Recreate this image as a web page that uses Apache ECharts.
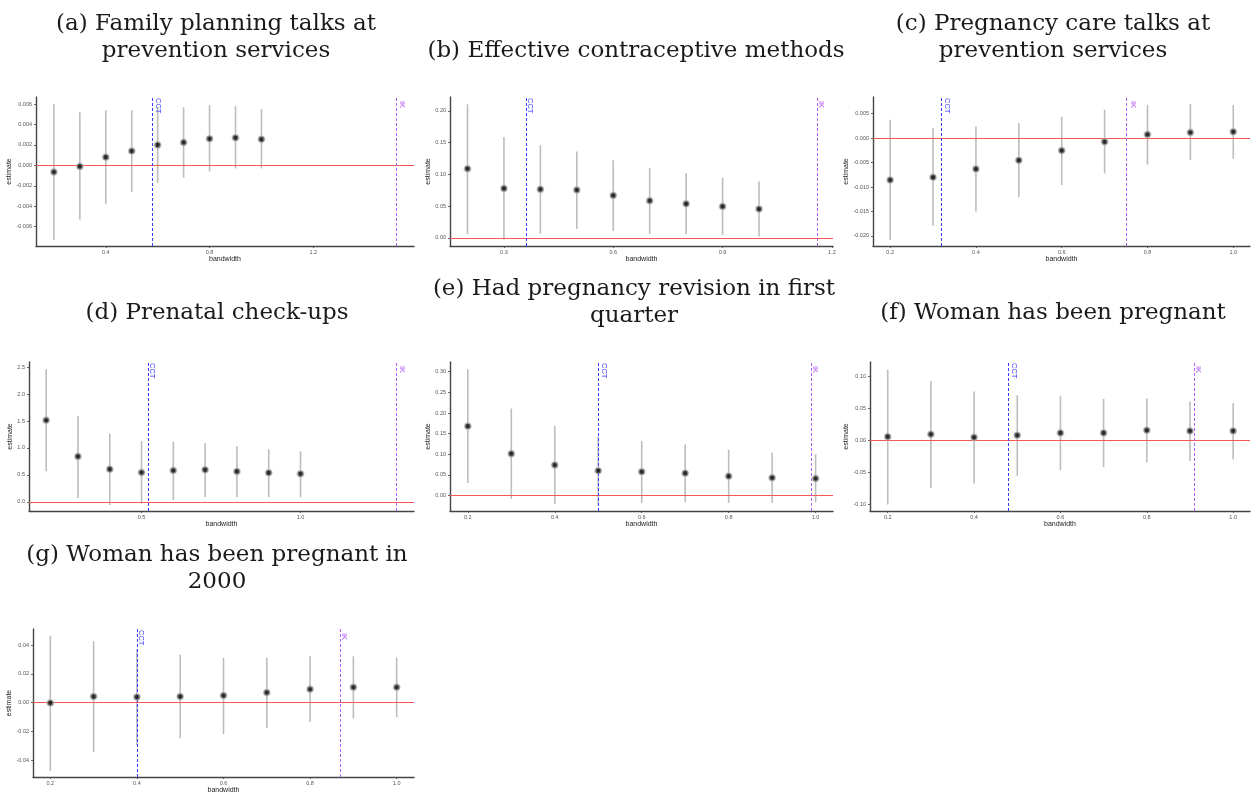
<!DOCTYPE html>
<html>
<head>
<meta charset="utf-8">
<script src="https://cdn.jsdelivr.net/npm/echarts@6/dist/echarts.min.js"></script>
<style>
  html, body { margin: 0; padding: 0; background: #ffffff; }
  #chart { width: 1251px; height: 797px; }
</style>
</head>
<body>
<div id="chart"></div>
<script>
// Bandwidths at which each RD estimate was computed
const bandwidth = [0.2, 0.3, 0.4, 0.5, 0.6, 0.7, 0.8, 0.9, 1.0];

// (a) Family planning talks at prevention services
const estA = [-0.00065, -0.0001, 0.0008, 0.0014, 0.0020, 0.00225, 0.0026, 0.0027, 0.00255];
const loA  = [-0.0073, -0.0053, -0.0038, -0.0026, -0.0017, -0.0012, -0.0006, -0.0003, -0.0003];
const hiA  = [0.0060, 0.0052, 0.0054, 0.0054, 0.0057, 0.0057, 0.0059, 0.0058, 0.0055];

// (b) Effective contraceptive methods
const estB = [0.109, 0.078, 0.0765, 0.0755, 0.067, 0.0586, 0.0538, 0.0496, 0.0454];
const loB  = [0.0058, -0.0026, 0.0069, 0.0142, 0.011, 0.0063, 0.0058, 0.0042, 0.0021];
const hiB  = [0.2105, 0.159, 0.146, 0.136, 0.1224, 0.110, 0.1018, 0.095, 0.089];

// (c) Pregnancy care talks at prevention services
const estC = [-0.00856, -0.0080, -0.0063, -0.00452, -0.00253, -0.00075, 0.00075, 0.00116, 0.0013];
const loC  = [-0.0208, -0.0179, -0.0150, -0.0121, -0.0096, -0.0072, -0.0054, -0.0045, -0.0042];
const hiC  = [0.00377, 0.00205, 0.0024, 0.0031, 0.00438, 0.00582, 0.0068, 0.0070, 0.0068];

// (d) Prenatal check-ups
const estD = [1.514, 0.844, 0.608, 0.546, 0.583, 0.596, 0.565, 0.540, 0.521];
const loD  = [0.571, 0.074, -0.056, -0.031, 0.037, 0.087, 0.087, 0.087, 0.087];
const hiD  = [2.457, 1.594, 1.266, 1.129, 1.117, 1.092, 1.030, 0.974, 0.937];

// (e) Had pregnancy revision in first quarter
const estE = [0.168, 0.1014, 0.0738, 0.060, 0.0576, 0.0543, 0.047, 0.043, 0.0414];
const loE  = [0.0308, -0.0081, -0.0203, -0.0227, -0.0178, -0.0154, -0.0178, -0.0178, -0.0162];
const hiE  = [0.3057, 0.2108, 0.1687, 0.1427, 0.1322, 0.124, 0.111, 0.1038, 0.1005];

// (f) Woman has been pregnant
const estF = [0.0057, 0.0094, 0.0047, 0.0078, 0.0115, 0.0115, 0.0156, 0.0146, 0.0146];
const loF  = [-0.100, -0.074, -0.067, -0.0552, -0.0464, -0.0417, -0.0344, -0.0323, -0.0297];
const hiF  = [0.110, 0.0927, 0.076, 0.0703, 0.0688, 0.0646, 0.0651, 0.0604, 0.0583];

// (g) Woman has been pregnant in 2000
const estG = [-0.0002, 0.0042, 0.0039, 0.0042, 0.0049, 0.0070, 0.0093, 0.0107, 0.0107];
const loG  = [-0.0475, -0.0343, -0.0297, -0.0248, -0.0218, -0.0176, -0.0134, -0.0111, -0.0102];
const hiG  = [0.0466, 0.0427, 0.0370, 0.0334, 0.0311, 0.0313, 0.0322, 0.0322, 0.0313];

// Optimal bandwidths (CCT and IK selectors)
const cctBw = [0.582, 0.357, 0.321, 0.516, 0.502, 0.480, 0.398];
const ikBw  = [1.524, 1.157, 0.754, 1.303, 0.988, 0.907, 0.868];

// Panel titles
const titles = [
  '(a) Family planning talks at\nprevention services',
  '(b) Effective contraceptive methods',
  '(c) Pregnancy care talks at\nprevention services',
  '(d) Prenatal check-ups',
  '(e) Had pregnancy revision in first\nquarter',
  '(f) Woman has been pregnant',
  '(g) Woman has been pregnant in\n2000'
];

// Tick labels
const xTicksA = [0.4, 0.8, 1.2];
const xTicksB = [0.3, 0.6, 0.9, 1.2];
const xTicksD = [0.5, 1.0];
const xTicksStd = [0.2, 0.4, 0.6, 0.8, 1.0];
const yTicksA = [-0.006, -0.004, -0.002, 0, 0.002, 0.004, 0.006];
const yTicksB = [0, 0.05, 0.10, 0.15, 0.20];
const yTicksC = [-0.020, -0.015, -0.010, -0.005, 0, 0.005];
const yTicksD = [0, 0.5, 1.0, 1.5, 2.0, 2.5];
const yTicksE = [0, 0.05, 0.10, 0.15, 0.20, 0.25, 0.30];
const yTicksF = [-0.10, -0.05, 0, 0.05, 0.10];
const yTicksG = [-0.04, -0.02, 0, 0.02, 0.04];

// Layout of each panel: plot rectangle, axis ranges, title placement
const panels = [
  { est: estA, lo: loA, hi: hiA, xt: xTicksA, yt: yTicksA, yd: 3,
    rect: [36, 97, 414, 246], xr: [0.131, 1.588], yr: [-0.0079, 0.0067], gap: 18, tx: 211, ty: 6 },
  { est: estB, lo: loB, hi: hiB, xt: xTicksB, yt: yTicksB, yd: 2,
    rect: [450, 97, 833, 246], xr: [0.152, 1.203], yr: [-0.0127, 0.222], gap: 13, tx: 631, ty: 33 },
  { est: estC, lo: loC, hi: hiC, xt: xTicksStd, yt: yTicksC, yd: 3,
    rect: [873, 97, 1250, 246], xr: [0.160, 1.039], yr: [-0.02205, 0.00842], gap: 19, tx: 1048, ty: 6 },
  { est: estD, lo: loD, hi: hiD, xt: xTicksD, yt: yTicksD, yd: 1,
    rect: [29, 362, 414, 511], xr: [0.146, 1.357], yr: [-0.1675, 2.593], gap: 11, tx: 212, ty: 295 },
  { est: estE, lo: loE, hi: hiE, xt: xTicksStd, yt: yTicksE, yd: 2,
    rect: [450, 362, 833, 511], xr: [0.159, 1.040], yr: [-0.0373, 0.3235], gap: 13, tx: 629, ty: 271 },
  { est: estF, lo: loF, hi: hiF, xt: xTicksStd, yt: yTicksF, yd: 2,
    rect: [870, 362, 1250, 511], xr: [0.159, 1.039], yr: [-0.1099, 0.1219], gap: 15, tx: 1048, ty: 295 },
  { est: estG, lo: loG, hi: hiG, xt: xTicksStd, yt: yTicksG, yd: 2,
    rect: [33, 629, 414, 777], xr: [0.160, 1.040], yr: [-0.0517, 0.0512], gap: 15, tx: 212, ty: 537 }
];

const SANS = '"Liberation Sans", Arial, sans-serif';
const SERIF = '"DejaVu Serif", "Liberation Serif", serif';
const BAR_GREY = '#bdbdbd';
const ZERO_RED = '#f25a5a';
const CCT_BLUE = '#3b3bff';
const IK_PURPLE = '#b05cf0';

const chart = echarts.init(document.getElementById('chart'), null, { renderer: 'canvas' });

const grid = [], xAxis = [], yAxis = [], series = [], title = [];

panels.forEach((p, i) => {
  const [l, t, r, b] = p.rect;
  grid.push({ left: l, top: t, width: r - l, height: b - t, containLabel: false });

  title.push({
    text: titles[i], left: p.tx, top: p.ty, textAlign: 'center',
    textStyle: { fontFamily: SERIF, fontSize: 23, fontWeight: 'normal', color: '#1a1a1a', lineHeight: 27 }
  });

  xAxis.push({
    type: 'value', gridIndex: i, min: p.xr[0], max: p.xr[1],
    name: 'bandwidth', nameLocation: 'middle', nameGap: 10,
    nameTextStyle: { fontFamily: SANS, fontSize: 7, color: '#222' },
    splitLine: { show: false },
    axisLine: { show: true, onZero: false, lineStyle: { color: '#444', width: 1.4 } },
    axisTick: { show: true, length: 2, customValues: p.xt, lineStyle: { color: '#444', width: 0.8 } },
    axisLabel: { customValues: p.xt, margin: 3, fontFamily: SANS, fontSize: 5.5, color: '#555',
      formatter: v => v.toFixed(1) }
  });

  yAxis.push({
    type: 'value', gridIndex: i, min: p.yr[0], max: p.yr[1],
    name: 'estimate', nameLocation: 'middle', nameGap: p.gap,
    nameTextStyle: { fontFamily: SANS, fontSize: 7, color: '#222' },
    splitLine: { show: false },
    axisLine: { show: true, onZero: false, lineStyle: { color: '#444', width: 1.4 } },
    axisTick: { show: true, length: 2, customValues: p.yt, lineStyle: { color: '#444', width: 0.8 } },
    axisLabel: { customValues: p.yt, margin: 4, fontFamily: SANS, fontSize: 5.5, color: '#555',
      formatter: v => v.toFixed(p.yd) }
  });

  // Confidence intervals
  series.push({
    type: 'custom', xAxisIndex: i, yAxisIndex: i, silent: true, z: 2,
    data: bandwidth.map((x, k) => [x, p.lo[k], p.hi[k]]),
    encode: { x: 0, y: [1, 2] },
    renderItem: (params, api) => {
      const a = api.coord([api.value(0), api.value(1)]);
      const c = api.coord([api.value(0), api.value(2)]);
      return { type: 'line', shape: { x1: a[0], y1: a[1], x2: c[0], y2: c[1] },
        style: { stroke: BAR_GREY, lineWidth: 1.6 } };
    }
  });

  // Point estimates, with the zero line and bandwidth selector lines
  series.push({
    type: 'scatter', xAxisIndex: i, yAxisIndex: i, silent: true, z: 5,
    data: bandwidth.map((x, k) => [x, p.est[k]]),
    symbol: 'circle', symbolSize: 6,
    itemStyle: { color: '#000', borderColor: 'rgba(170,170,170,0.85)', borderWidth: 1.8 },
    markLine: {
      silent: true, symbol: ['none', 'none'], label: { show: false }, animation: false,
      data: [
        { yAxis: 0, lineStyle: { color: ZERO_RED, type: 'solid', width: 1.2 } },
        { xAxis: cctBw[i], lineStyle: { color: CCT_BLUE, type: [3, 2], width: 1 } },
        { xAxis: ikBw[i], lineStyle: { color: IK_PURPLE, type: [3, 2], width: 1 } }
      ]
    }
  });

  // Selector labels written downward next to each line
  series.push({
    type: 'custom', xAxisIndex: i, yAxisIndex: i, silent: true, z: 4,
    data: [[cctBw[i], p.yr[1], 0], [ikBw[i], p.yr[1], 1]],
    renderItem: (params, api) => {
      const pt = api.coord([api.value(0), api.value(1)]);
      const isIk = api.value(2) === 1;
      return {
        type: 'text', x: pt[0] + 1, y: pt[1] + (isIk ? 4 : 1), rotation: -Math.PI / 2,
        style: { text: isIk ? 'IK' : 'CCT', fill: isIk ? IK_PURPLE : CCT_BLUE,
          font: '7.5px ' + SANS, align: 'left', verticalAlign: 'bottom' }
      };
    }
  });
});

chart.setOption({
  backgroundColor: '#ffffff',
  animation: false,
  title, grid, xAxis, yAxis, series
});
</script>
</body>
</html>
